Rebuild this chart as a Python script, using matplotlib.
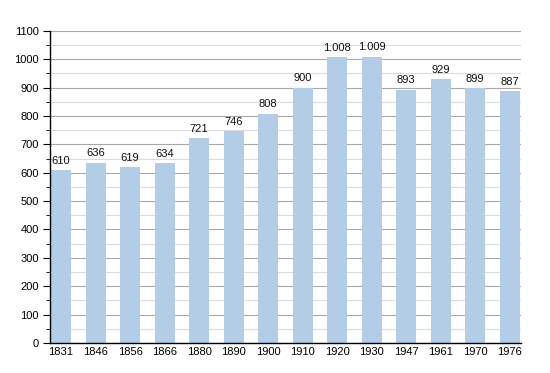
import matplotlib
matplotlib.use('Agg')
from matplotlib import pyplot as plt
from matplotlib.ticker import MultipleLocator

years = ['1831', '1846', '1856', '1866', '1880', '1890', '1900',
         '1910', '1920', '1930', '1947', '1961', '1970', '1976']
population = [610, 636, 619, 634, 721, 746, 808, 900, 1008, 1009, 893, 929, 899, 887]
labels = ['610', '636', '619', '634', '721', '746', '808', '900',
          '1.008', '1.009', '893', '929', '899', '887']

plt.rcParams['font.family'] = ['Liberation Sans', 'DejaVu Sans']

fig = plt.figure(figsize=(5.5, 3.73), dpi=100)
ax = fig.add_axes([0.0909, 0.0804, 0.856, 0.837])

x = range(len(years))
ax.bar(x, population, width=0.58, color='#b3cde6', zorder=2)
for i, v in enumerate(population):
    ax.text(i, v + 15, labels[i], ha='center', va='bottom', fontsize=8, color='#111111', zorder=3)

ax.set_xlim(-0.32, 13.32)
ax.set_ylim(0, 1100)
ax.yaxis.set_major_locator(MultipleLocator(100))
ax.yaxis.set_minor_locator(MultipleLocator(50))
ax.grid(axis='y', which='major', color='#a8a8a8', linewidth=0.8, zorder=0)
ax.grid(axis='y', which='minor', color='#dcdcdc', linewidth=0.8, zorder=0)
ax.set_xticks(list(x))
ax.set_xticklabels(years)
ax.tick_params(axis='x', length=0, labelsize=8, pad=3)
ax.tick_params(axis='y', which='major', length=5, labelsize=8, pad=3)
ax.tick_params(axis='y', which='minor', length=3)
for s in ['top', 'right']:
    ax.spines[s].set_visible(False)
ax.spines['left'].set_linewidth(1)
ax.spines['bottom'].set_linewidth(1)

fig.savefig('out.png', dpi=100)
